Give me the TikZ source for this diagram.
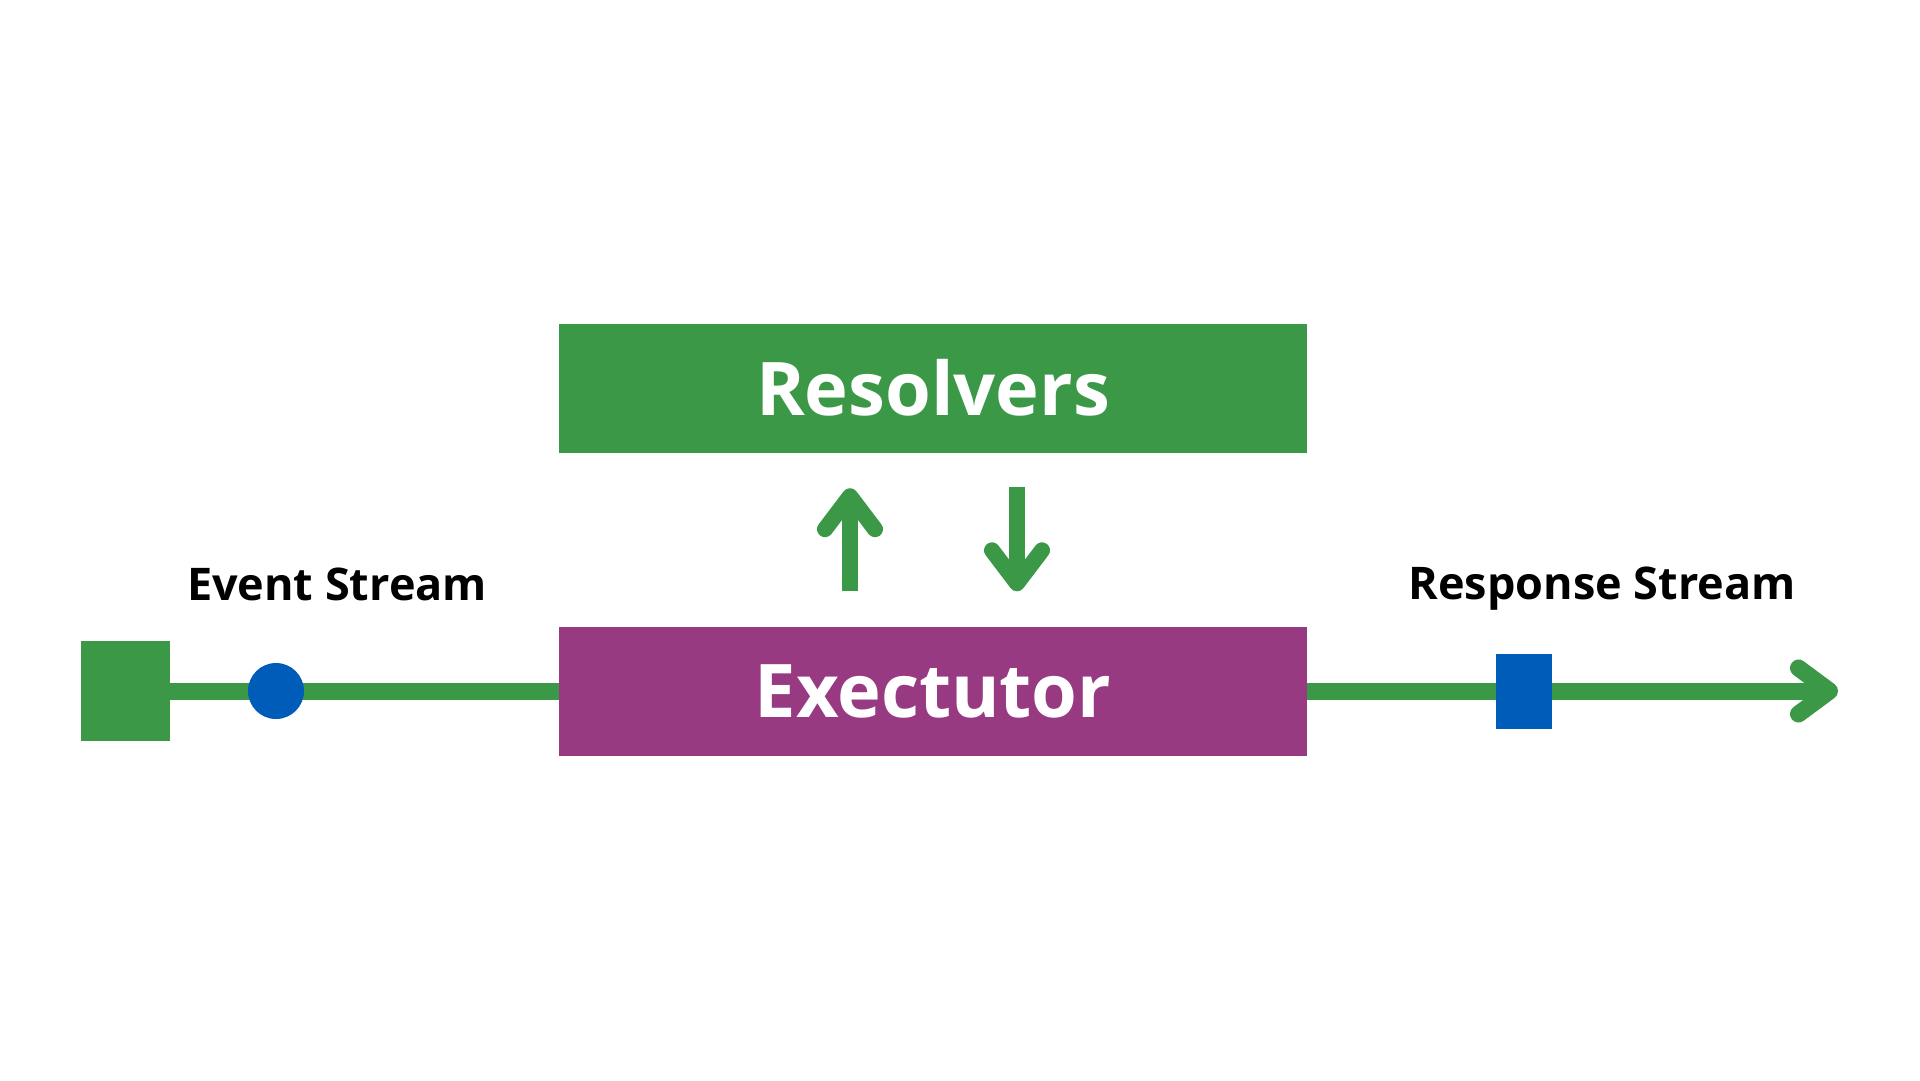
\documentclass[tikz,border=0pt]{standalone}
\usepackage{fontspec}
\setmainfont{Open Sans}
\usetikzlibrary{arrows.meta}
\definecolor{gr}{HTML}{3B9847}
\definecolor{pu}{HTML}{973A81}
\definecolor{bl}{HTML}{005CB9}
\tikzset{
  bigbox/.style={minimum width=748pt, minimum height=129pt, inner sep=0pt,
    text=white, font=\bfseries\fontsize{74}{74}\selectfont, text height=53pt, text depth=0pt},
  flow/.style={draw=gr, line width=17pt},
  vflow/.style={draw=gr, line width=16pt, -{Straight Barb[round, length=33pt, width=50pt]}},
  lbl/.style={font=\bfseries\fontsize{45}{45}\selectfont, anchor=base, inner sep=0pt}
}
\begin{document}
\begin{tikzpicture}[x=1pt,y=-1pt]
\useasboundingbox[fill=white] (0,0) rectangle (1920,1080);
\node[bigbox, fill=gr] (res) at (933,388.5) {Resolvers};
\node[bigbox, fill=pu] (exec) at (933,691) {Exectutor};
\node[fill=gr, minimum width=89pt, minimum height=100pt, inner sep=0pt] (sq) at (125.5,691) {};
\coordinate (end) at (1838,691);
\draw[flow] (sq.east) -- (exec.west);
\draw[flow, -{Straight Barb[round, length=31pt, width=46pt]}] (exec.east) -- (end);
\node[circle, fill=bl, minimum size=56pt, inner sep=0pt] (dot) at (276,691) {};
\node[fill=bl, minimum width=56pt, minimum height=75pt, inner sep=0pt] (rsq) at (1524,691) {};
\draw[vflow] ([xshift=-83pt, yshift=35pt]exec.north) -- ([xshift=-83pt, yshift=-35pt]res.south);
\draw[vflow] ([xshift=84pt, yshift=-34pt]res.south) -- ([xshift=84pt, yshift=35pt]exec.north);
\node[lbl] (ev) at (337,600) {Event Stream};
\node[lbl] (rs) at (1602,599) {Response Stream};
\end{tikzpicture}
\end{document}
